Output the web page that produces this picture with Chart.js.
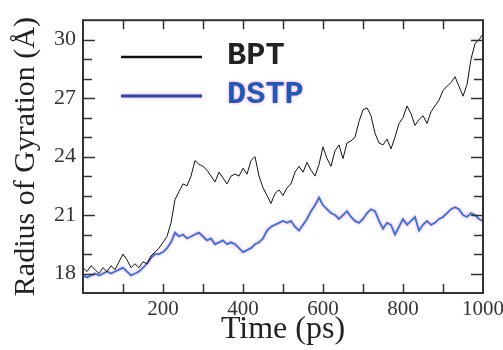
<!DOCTYPE html>
<html>
<head>
<meta charset="utf-8">
<script src="https://cdn.jsdelivr.net/npm/chart.js@4.4.1/dist/chart.umd.min.js"></script>
<style>
  html, body { margin: 0; padding: 0; background: #fff; }
  #wrap { width: 503px; height: 350px; }
</style>
</head>
<body>
<div id="wrap"><canvas id="rg" width="503" height="350"></canvas></div>
<script>
// time in ps, every 10 ps
var times = [];
for (var t = 0; t <= 1000; t += 10) times.push(t);

var bpt = [18.3, 18.1, 18.4, 18.2, 18.0, 18.3, 18.1, 18.4, 18.2, 18.6,
    19.0, 18.7, 18.3, 18.5, 18.3, 18.6, 18.5, 18.9, 19.1, 19.3,
    19.6, 19.9, 20.6, 21.8, 22.2, 22.6, 22.5, 23.0, 23.8, 23.6,
    23.5, 23.3, 23.0, 22.7, 23.2, 22.9, 22.6, 23.0, 23.1, 23.0,
    23.4, 23.1, 23.8, 24.0, 23.0, 22.4, 22.0, 21.6, 22.1, 22.3,
    22.0, 22.4, 22.6, 23.2, 23.5, 23.2, 23.7, 23.3, 23.0, 23.6,
    24.5, 23.9, 23.5, 24.3, 24.6, 23.9, 24.7, 24.8, 25.0, 25.8,
    26.4, 26.5, 26.1, 25.2, 24.7, 24.6, 24.9, 24.4, 25.0, 25.7,
    26.0, 26.6, 26.2, 25.6, 25.9, 26.1, 25.7, 26.3, 26.6, 26.9,
    27.4, 27.6, 27.8, 28.1, 27.6, 27.1, 27.7, 29.0, 29.8, 30.0,
    30.3];

var dstp = [17.9, 17.8, 17.9, 18.0, 17.9, 18.0, 18.1, 18.0, 18.1, 18.2,
    18.3, 18.1, 17.9, 18.0, 18.1, 18.3, 18.5, 18.8, 19.0, 19.0,
    19.1, 19.3, 19.6, 20.1, 19.9, 20.0, 19.8, 19.9, 20.0, 20.1,
    19.9, 19.7, 19.8, 19.5, 19.6, 19.7, 19.5, 19.6, 19.5, 19.3,
    19.1, 19.2, 19.3, 19.5, 19.6, 19.8, 20.2, 20.4, 20.5, 20.6,
    20.7, 20.6, 20.7, 20.4, 20.2, 20.5, 20.8, 21.2, 21.5, 21.9,
    21.5, 21.3, 21.1, 21.0, 20.8, 21.0, 21.2, 20.9, 20.7, 20.6,
    20.8, 21.1, 21.3, 21.2, 20.7, 20.3, 20.6, 20.5, 20.0, 20.4,
    20.8, 20.5, 20.7, 20.9, 20.2, 20.5, 20.7, 20.5, 20.6, 20.8,
    20.9, 21.1, 21.3, 21.4, 21.3, 21.0, 20.9, 21.1, 21.0, 20.8,
    20.7];

var seriesNames = ['BPT', 'DSTP'];
var yTickLabels = [18, 21, 24, 27, 30];

function toPoints(ys) {
    var pts = [];
    for (var i = 0; i < ys.length; i++) pts.push({ x: times[i], y: ys[i] });
    return pts;
}

// inward ticks on all four sides + the legend inside the plot
var framePlugin = {
    id: 'frame',
    beforeDatasetDraw: function (chart, args) {
        var ctx = chart.ctx;
        ctx.save();
        if (args.index === 1) {
            ctx.shadowColor = 'rgba(255, 90, 200, 0.75)';
            ctx.shadowBlur = 3;
        }
    },
    afterDatasetDraw: function (chart) {
        chart.ctx.restore();
    },
    afterDraw: function (chart) {
        var ctx = chart.ctx;
        var a = chart.chartArea;
        var xs = chart.scales.x, ys = chart.scales.y;
        ctx.save();
        ctx.strokeStyle = '#333';
        ctx.lineWidth = 2;
        ctx.strokeRect(a.left, a.top, a.right - a.left, a.bottom - a.top);

        ctx.lineWidth = 1.5;
        ctx.beginPath();
        for (var v = 100; v < 1000; v += 100) {
            var px = Math.round(xs.getPixelForValue(v)) + 0.5;
            ctx.moveTo(px, a.bottom); ctx.lineTo(px, a.bottom - 9);
            ctx.moveTo(px, a.top); ctx.lineTo(px, a.top + 9);
        }
        for (var w = 18; w <= 30; w++) {
            var py = Math.round(ys.getPixelForValue(w)) + 0.5;
            var len = (w % 3 === 0) ? 12 : 9;
            ctx.moveTo(a.left, py); ctx.lineTo(a.left + len, py);
            ctx.moveTo(a.right, py); ctx.lineTo(a.right - len, py);
        }
        ctx.stroke();

        // legend
        var ds = chart.data.datasets;
        var rows = [57, 96];
        ctx.textBaseline = 'middle';
        ctx.textAlign = 'left';
        ctx.font = 'bold 32px "Courier New", "Liberation Mono", monospace';
        for (var i = 0; i < ds.length; i++) {
            ctx.save();
            if (i === 1) {
                ctx.shadowColor = 'rgba(255, 90, 200, 0.8)';
                ctx.shadowBlur = 3;
            }
            ctx.strokeStyle = i === 0 ? '#111' : '#1f4fae';
            ctx.lineWidth = i === 0 ? 2.5 : 3;
            ctx.beginPath();
            ctx.moveTo(121, rows[i]);
            ctx.lineTo(202, rows[i]);
            ctx.stroke();
            ctx.fillStyle = i === 0 ? '#222' : '#1d5cb4';
            ctx.fillText(ds[i].label, 227, rows[i] - 1);
            ctx.restore();
        }
        ctx.restore();
    }
};

var ctx = document.getElementById('rg').getContext('2d');
var chart = new Chart(ctx, {
    type: 'line',
    data: {
        datasets: [{
            label: seriesNames[0],
            data: toPoints(bpt),
            borderColor: '#111',
            borderWidth: 1,
            pointRadius: 0,
            tension: 0
        }, {
            label: seriesNames[1],
            data: toPoints(dstp),
            borderColor: '#2e78d4',
            borderWidth: 1.8,
            pointRadius: 0,
            tension: 0
        }]
    },
    options: {
        responsive: false,
        animation: false,
        events: [],
        layout: { padding: { left: 0, right: 20, top: 17, bottom: 0 } },
        plugins: { legend: { display: false }, tooltip: { enabled: false } },
        scales: {
            x: {
                type: 'linear',
                min: 0,
                max: 1000,
                grid: { display: false, drawTicks: false },
                border: { display: false },
                afterFit: function (s) {
                    s.height = 57;
                    s.paddingLeft = 0;
                    s.paddingRight = 0;
                },
                ticks: {
                    stepSize: 200,
                    padding: 4,
                    color: '#333',
                    maxRotation: 0,
                    font: { family: '"Liberation Serif", serif', size: 21 },
                    callback: function (v) { return v === 0 ? '' : v; }
                },
                title: {
                    display: true,
                    text: 'Time (ps)',
                    color: '#222',
                    padding: { top: 0, bottom: 1 },
                    font: { family: '"Liberation Serif", serif', size: 32 }
                }
            },
            y: {
                min: 17,
                max: 31,
                grid: { display: false, drawTicks: false },
                border: { display: false },
                afterFit: function (s) { s.width = 83; },
                afterBuildTicks: function (s) {
                    s.ticks = yTickLabels.map(function (v) { return { value: v }; });
                },
                ticks: {
                    padding: 7,
                    color: '#333',
                    font: { family: '"Liberation Serif", serif', size: 22 }
                },
                title: {
                    display: true,
                    text: 'Radius of Gyration (Å)',
                    color: '#222',
                    padding: { top: 8, bottom: 0 },
                    font: { family: '"Liberation Serif", serif', size: 30 }
                }
            }
        }
    },
    plugins: [framePlugin]
});
</script>
</body>
</html>
